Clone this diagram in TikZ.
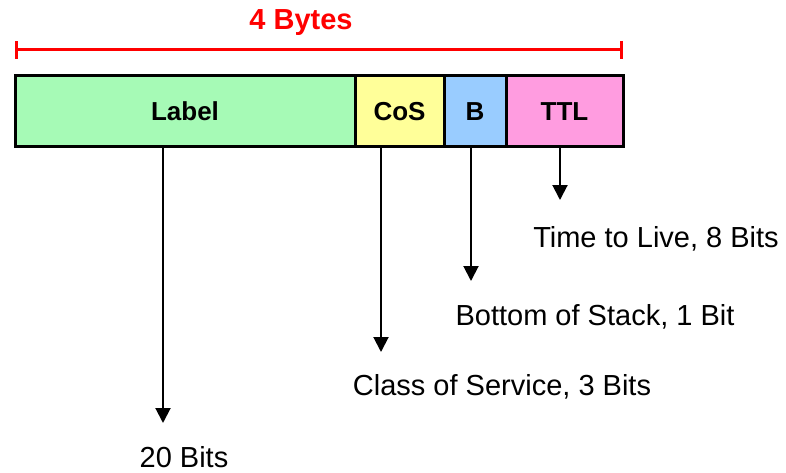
\documentclass[tikz,border=0pt]{standalone}
\usepackage{fontspec}
\setmainfont{Liberation Sans}
\usepackage{tikz}
\usetikzlibrary{arrows.meta, positioning}

\definecolor{labelgreen}{RGB}{166,250,182}
\definecolor{cosyellow}{RGB}{255,255,153}
\definecolor{bblue}{RGB}{153,204,255}
\definecolor{ttlpink}{RGB}{255,156,224}

\tikzset{
  field/.style={draw, line width=3pt, minimum height=71pt, inner sep=0pt,
    font=\fontsize{26}{30}\selectfont\bfseries},
  bits/.style={anchor=base, inner sep=0pt, font=\fontsize{29}{34}\selectfont},
  pointer/.style={line width=2pt, -{Triangle[length=15pt,width=15pt]}}
}

\begin{document}
\begin{tikzpicture}[x=1pt, y=-1pt]
  \useasboundingbox (0,0) rectangle (786,473);

  % size bar
  \node[anchor=base, inner sep=0pt, text=red, font=\fontsize{29}{34}\selectfont\bfseries]
    (bytes) at (301,30) {4 Bytes};
  \coordinate (barL) at (15,50);
  \coordinate (barR) at (623,50);
  \draw[red, line width=3pt, {Bar[width=18pt]}-{Bar[width=18pt]}] (barL) -- (barR);

  % header fields
  \node[field, fill=labelgreen, minimum width=340pt] (label) at (185,111.5) {Label};
  \node[field, fill=cosyellow, minimum width=89pt] (cos) at (399.5,111.5) {CoS};
  \node[field, fill=bblue, minimum width=62pt] (b) at (475,111.5) {B};
  \node[field, fill=ttlpink, minimum width=117pt] (ttl) at (564.5,111.5) {TTL};

  % texts
  \node[bits] (ttlbits) at (656,247) {Time to Live, 8 Bits};
  \node[bits] (bbits) at (595,325) {Bottom of Stack, 1 Bit};
  \node[bits] (cosbits) at (502,395) {Class of Service, 3 Bits};
  \node[bits] (labelbits) at (184,467) {20 Bits};

  % pointers
  \coordinate (tipLabel) at (163,423);
  \coordinate (tipCos) at (381,352);
  \coordinate (tipB) at (471,281);
  \coordinate (tipTtl) at (560,200);
  \draw[pointer] (label.south -| tipLabel) -- (tipLabel);
  \draw[pointer] (cos.south -| tipCos) -- (tipCos);
  \draw[pointer] (b.south -| tipB) -- (tipB);
  \draw[pointer] (ttl.south -| tipTtl) -- (tipTtl);
\end{tikzpicture}
\end{document}
